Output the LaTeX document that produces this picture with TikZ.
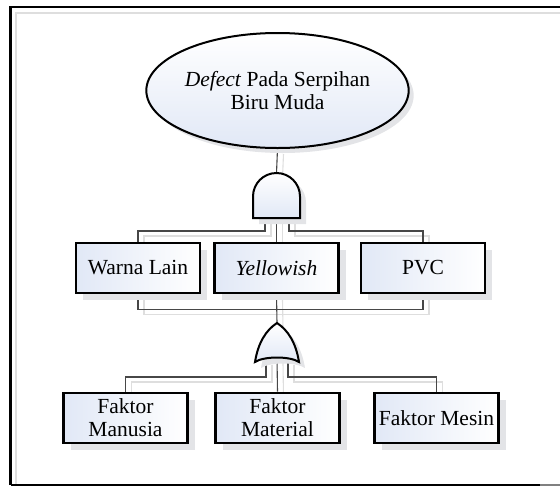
\documentclass[tikz,border=0pt]{standalone}
\usepackage{fontspec}
\setmainfont{Liberation Serif}
\usetikzlibrary{shapes.geometric,shadows}
\definecolor{fillblue}{HTML}{E1E8F6}
\definecolor{shadowgray}{HTML}{E3E4E7}
\definecolor{linegray}{HTML}{474747}
\definecolor{lineshadow}{HTML}{DEDEDE}
\pgfdeclarelayer{background}
\pgfdeclarelayer{backback}
\pgfsetlayers{backback,background,main}
\begin{document}
\begin{tikzpicture}[x=1pt,y=-1pt,
  txt/.style={font=\fontsize{21.5}{23}\selectfont, align=center},
  boxshadow/.style={drop shadow={shadow xshift=7pt,shadow yshift=-7pt,fill=shadowgray,opacity=1}},
  box/.style={rectangle, draw=black, line width=2.6pt, minimum width=124pt, minimum height=50pt,
    inner sep=0pt, left color=fillblue, right color=white, txt, boxshadow},
  topev/.style={ellipse, draw=black, line width=2pt, minimum width=224pt, minimum height=115pt,
    inner sep=0pt, top color=white, bottom color=fillblue, txt,
    drop shadow={shadow xshift=5pt,shadow yshift=-5pt,fill=shadowgray,opacity=1}},
  gate/.style={draw=black, line width=2pt, top color=white, bottom color=fillblue},
  gateshadow/.style={fill=shadowgray},
  conn/.style={draw=linegray, line width=1.1pt},
  connsh/.style={draw=lineshadow, line width=1.1pt},
  frameline/.style={line width=2.8pt}
  ]
\useasboundingbox (0,0) rectangle (560,488);

% frame
\draw[lineshadow, line width=2pt] (16,486) -- (16,13) -- (560,13);
\draw[frameline] (10.5,485) -- (10.5,7) -- (560,7);
\draw[frameline] (10.5,485) -- (540,485);
\draw[frameline, gray] (540,485) -- (560,485);

% top event
\node[topev] (top) at (277.5,90.5) {\textit{Defect} Pada Serpihan\\Biru Muda};

% AND gate
\coordinate (andtop) at (276.5,173);
\coordinate (andL) at (265,218);
\coordinate (andM) at (276.5,218);
\coordinate (andR) at (289,218);
\fill[gateshadow] (259,224) -- (259,202.5) .. controls (259,189.5) and (269.5,179) .. (282.5,179)
  .. controls (295.5,179) and (306,189.5) .. (306,202.5) -- (306,224) -- cycle;
\path[gate] (253,218) -- (253,196.5) .. controls (253,183.5) and (263.5,173) .. (276.5,173)
  .. controls (289.5,173) and (300,183.5) .. (300,196.5) -- (300,218) -- cycle;

% first row
\node[box] (warna) at (138,268) {Warna Lain};
\node[box] (yel) at (276.5,268) {\textit{Yellowish}};
\node[box] (pvc) at (423,268) {PVC};

% OR gate
\coordinate (ortop) at (277,323);
\coordinate (orL) at (266,359.5);
\coordinate (orM) at (277,357.5);
\coordinate (orR) at (288,359.5);
\fill[gateshadow] (261,368) .. controls (264,349) and (272,336) .. (283,329)
  .. controls (294,336) and (302,349) .. (305,368) .. controls (296,362) and (270,362) .. (261,368) -- cycle;
\path[gate] (255,362) .. controls (258,343) and (266,330) .. (277,323)
  .. controls (288,330) and (296,343) .. (299,362) .. controls (290,356) and (264,356) .. (255,362) -- cycle;

% second row
\node[box] (man) at (125.5,418) {Faktor\\Manusia};
\node[box] (mat) at (277.5,418) {Faktor\\Material};
\node[box] (mes) at (436.5,418) {Faktor Mesin};

% connectors
\begin{pgfonlayer}{background}
\draw[conn] (top.south) -- (andtop);
\draw[conn] (andL) -- ++(0,13) -| (warna.north);
\draw[conn] (andM) -- (yel.north);
\draw[conn] (andR) -- ++(0,13) -| (pvc.north);
\draw[conn] (warna.south) -- ++(0,15) -| (pvc.south);
\draw[conn] (yel.south) -- (ortop);
\draw[conn] (orL) -- ++(0,17.5) -| (man.north);
\draw[conn] (orM) -- (mat.north);
\draw[conn] (orR) -- ++(0,17.5) -| (mes.north);
\end{pgfonlayer}
\begin{pgfonlayer}{backback}
\begin{scope}[transform canvas={xshift=6pt,yshift=-5pt}]
\draw[connsh] (top.south) -- (andtop);
\draw[connsh] (andL) -- ++(0,13) -| (warna.north);
\draw[connsh] (andM) -- (yel.north);
\draw[connsh] (andR) -- ++(0,13) -| (pvc.north);
\draw[connsh] (warna.south) -- ++(0,15) -| (pvc.south);
\draw[connsh] (yel.south) -- (ortop);
\draw[connsh] (orL) -- ++(0,17.5) -| (man.north);
\draw[connsh] (orM) -- (mat.north);
\draw[connsh] (orR) -- ++(0,17.5) -| (mes.north);
\end{scope}
\end{pgfonlayer}
\end{tikzpicture}
\end{document}
